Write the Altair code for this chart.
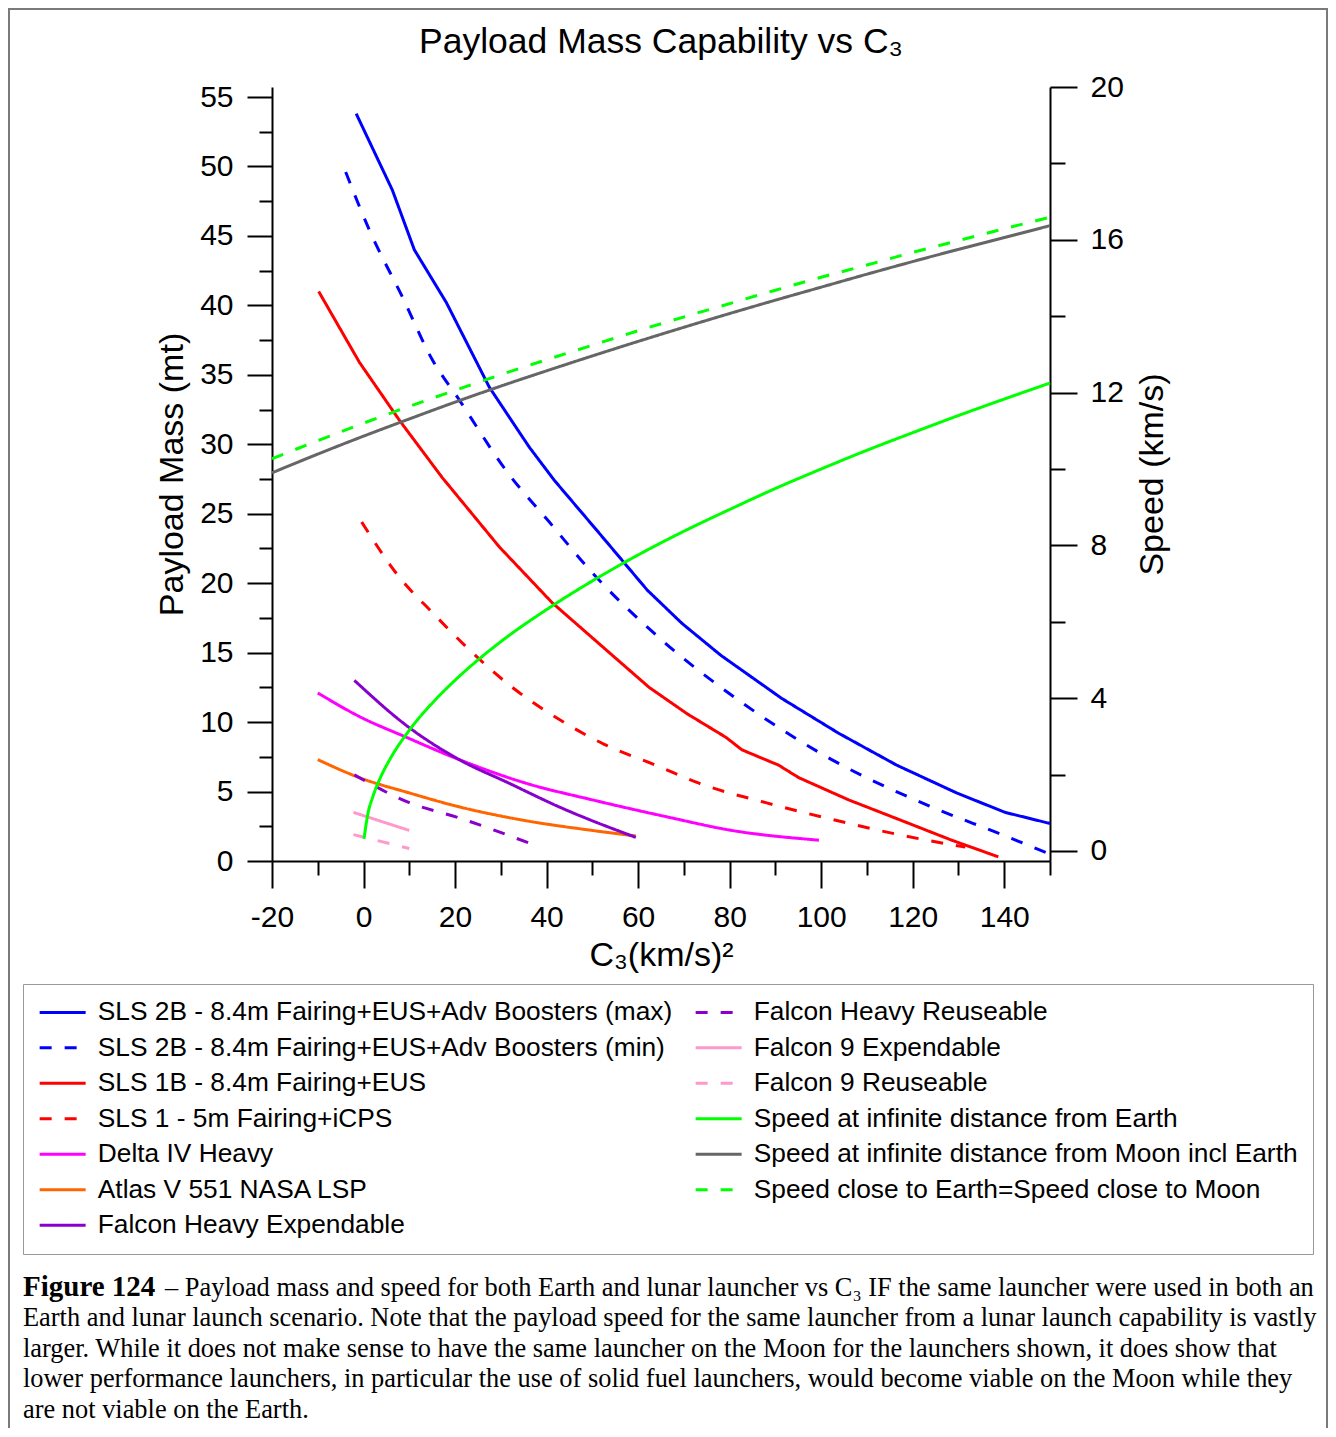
import altair as alt
import pandas as pd

# ---------------- data ----------------
SERIES = [
    "SLS 2B - 8.4m Fairing+EUS+Adv Boosters (max)",
    "SLS 2B - 8.4m Fairing+EUS+Adv Boosters (min)",
    "SLS 1B - 8.4m Fairing+EUS",
    "SLS 1 - 5m Fairing+iCPS",
    "Delta IV Heavy",
    "Atlas V 551 NASA LSP",
    "Falcon Heavy Expendable",
    "Falcon Heavy Reuseable",
    "Falcon 9 Expendable",
    "Falcon 9 Reuseable",
    "Speed at infinite distance from Earth",
    "Speed at infinite distance from Moon incl Earth",
    "Speed close to Earth=Speed close to Moon",
]
COLORS = ["#0000FF", "#0000FF", "#FF0000", "#FF0000", "#FF00FF", "#FF6600",
          "#8800CC", "#8800CC", "#FF99CC", "#FF99CC", "#00FF00", "#666666", "#00FF00"]
DASHED = [False, True, False, True, False, False, False, True, False, True, False, False, True]

# payload mass (mt) vs C3 (km/s)^2
SLS2B_MAX_C3 = [-1.6, 6.3, 11.1, 18.1, 27.5, 36.2, 41.7, 51.5, 62, 69.6, 78.1, 91.4, 103.8, 116.5, 129.6, 140.2, 150]
SLS2B_MAX_MT = [53.8, 48.3, 44.0, 40.2, 34.1, 29.8, 27.4, 23.6, 19.5, 17.1, 14.8, 11.7, 9.2, 6.9, 4.9, 3.5, 2.7]
SLS2B_MIN_C3 = [-3.9, 1.3, 8.5, 15.0, 20.9, 31.4, 40.6, 49.3, 65.2, 82.7, 102.3, 124.1, 138.7, 149.2]
SLS2B_MIN_MT = [49.6, 45.4, 40.6, 36.1, 33.2, 28.0, 24.4, 21.0, 15.9, 11.4, 7.3, 3.9, 2.0, 0.6]
SLS1B_C3 = [-9.8, -0.9, 7.9, 17.2, 29.7, 41.2, 53.7, 62.4, 70.7, 79.2, 82.7, 90.7, 95.1, 106, 116.9, 128.5, 138.7]
SLS1B_MT = [41.0, 35.9, 31.7, 27.6, 22.6, 18.6, 15.0, 12.5, 10.6, 8.9, 8.0, 6.9, 6.0, 4.4, 3.0, 1.5, 0.3]
SLS1_C3 = [-0.4, 7.9, 15.0, 22.5, 32.5, 42.7, 52.6, 64.6, 73.3, 87.9, 102.3, 116.9, 131.5]
SLS1_MT = [24.4, 20.4, 17.9, 15.4, 12.5, 10.2, 8.4, 6.8, 5.6, 4.2, 3.0, 1.9, 1.0]
D4H_C3 = [-10, -0.9, 9.4, 20.9, 35.5, 50.0, 66.0, 80.5, 99.5]
D4H_MT = [12.1, 10.4, 8.9, 7.3, 5.6, 4.4, 3.2, 2.2, 1.5]
ATLAS_C3 = [-10, -0.9, 10.0, 20.9, 35.5, 50.0, 59.5]
ATLAS_MT = [7.3, 6.0, 4.9, 3.9, 2.9, 2.2, 1.8]
FHE_C3 = [-2.0, 10.0, 20.9, 31.8, 42.7, 59.5]
FHE_MT = [13.0, 9.6, 7.3, 5.6, 3.9, 1.7]
FHR_C3 = [-2.0, 10.0, 20.9, 36.9]
FHR_MT = [6.2, 4.2, 3.1, 1.2]
F9E_C3 = [-2.2, 10.0]
F9E_MT = [3.5, 2.2]
F9R_C3 = [-2.2, 10.0]
F9R_MT = [1.9, 0.9]

# speed (km/s) vs C3
EARTH_C3 = [0.1, 1, 2, 4, 6, 10, 15, 20, 30, 40, 50, 60, 70, 80, 90, 100, 110, 120, 130, 140, 150]
EARTH_KMS = [0.32, 1.0, 1.41, 2.0, 2.45, 3.16, 3.87, 4.47, 5.48, 6.32, 7.07, 7.75, 8.37, 8.94, 9.49, 10.0,
             10.49, 10.95, 11.4, 11.83, 12.25]
GRID_C3 = [-20, -10, 0, 10, 20, 30, 40, 50, 60, 70, 80, 90, 100, 110, 120, 130, 140, 150]
MOON_KMS = [9.90, 10.39, 10.86, 11.31, 11.75, 12.17, 12.57, 12.96, 13.34, 13.71, 14.07, 14.42, 14.76,
            15.10, 15.43, 15.75, 16.06, 16.37]
CLOSE_KMS = [10.27, 10.74, 11.2, 11.64, 12.06, 12.47, 12.86, 13.24, 13.62, 13.98, 14.33, 14.68, 15.02,
             15.34, 15.67, 15.98, 16.29, 16.59]

TITLE = "Payload Mass Capability vs C\u2083"
X_TITLE = "C\u2083(km/s)\u00b2"
CAPTION_BOLD = "Figure 124"
CAPTION_LINE1 = "\u2013 Payload mass and speed for both Earth and lunar launcher vs C\u2083 IF the same launcher were used in both an"
CAPTION_REST = [
    "Earth and lunar launch scenario. Note that the payload speed for the same launcher from a lunar launch capability is vastly",
    "larger. While it does not make sense to have the same launcher on the Moon for the launchers shown, it does show that",
    "lower performance launchers, in particular the use of solid fuel launchers, would become viable on the Moon while they",
    "are not viable on the Earth.",
]

# ---------------- tables ----------------
kinked_sets = [
    (SERIES[0], SLS2B_MAX_C3, SLS2B_MAX_MT), (SERIES[2], SLS1B_C3, SLS1B_MT),
]
smooth_sets = [
    (SERIES[1], SLS2B_MIN_C3, SLS2B_MIN_MT), (SERIES[3], SLS1_C3, SLS1_MT),
    (SERIES[4], D4H_C3, D4H_MT), (SERIES[5], ATLAS_C3, ATLAS_MT),
    (SERIES[6], FHE_C3, FHE_MT), (SERIES[7], FHR_C3, FHR_MT),
    (SERIES[8], F9E_C3, F9E_MT), (SERIES[9], F9R_C3, F9R_MT),
]
speed_sets = [
    (SERIES[10], EARTH_C3, EARTH_KMS), (SERIES[11], GRID_C3, MOON_KMS), (SERIES[12], GRID_C3, CLOSE_KMS),
]

def build(sets):
    rows = []
    for name, xs, ys in sets:
        for i, (a, b) in enumerate(zip(xs, ys)):
            rows.append({"series": name, "c3": a, "value": b, "i": i})
    return pd.DataFrame(rows)

kinked_df = build(kinked_sets)
smooth_df = build(smooth_sets)
speed_df = build(speed_sets)

dash_rng = [[12, 13] if d else [1, 0] for d in DASHED]

W, H = 778, 774
FONT = "Liberation Sans"

legend = alt.Legend(
    orient="none", legendX=-249, legendY=897, columns=2, title=None,
    labelFont=FONT, labelFontSize=26.3, labelColor="black", labelLimit=1000,
    symbolType="M-2,0L2,0", symbolSize=529, symbolStrokeWidth=3, symbolOffset=11.5,
    rowPadding=8.5, columnPadding=16, labelOffset=22, padding=15,
    strokeColor="#999999", fillColor="white",
)
color = alt.Color("series:N", scale=alt.Scale(domain=SERIES, range=COLORS), legend=legend)
dash = alt.StrokeDash("series:N", scale=alt.Scale(domain=SERIES, range=dash_rng), legend=legend)

x_axis = alt.Axis(
    values=list(range(-20, 151, 10)),
    labelExpr="datum.value % 20 === 0 ? '' + datum.value : ''",
    tickSize={"condition": {"test": "datum.value % 20 === 0", "value": 27}, "value": 14},
    labelPadding=14, labelFlush=False, labelOverlap=False, labelBound=False,
    title=X_TITLE, titlePadding=6,
)
x_enc = alt.X("c3:Q", scale=alt.Scale(domain=[-20, 150], nice=False, zero=False), axis=x_axis)

mass_axis = alt.Axis(
    orient="left", values=[v * 2.5 for v in range(0, 23)],
    labelExpr="datum.value % 5 === 0 ? datum.label : ''",
    tickSize={"condition": {"test": "datum.value % 5 === 0", "value": 25}, "value": 13},
    labelPadding=14, labelOverlap=False, labelFlush=False, labelBound=False,
    title="Payload Mass (mt)", titlePadding=10,
)
speed_axis = alt.Axis(
    orient="right", values=list(range(0, 21, 2)),
    labelExpr="datum.value % 4 === 0 ? datum.label : ''",
    tickSize={"condition": {"test": "datum.value % 4 === 0", "value": 27}, "value": 15},
    labelPadding=13, labelOverlap=False, labelFlush=False, labelBound=False,
    title="Speed (km/s)", titlePadding=12, titleAngle=270, titleBaseline="top",
)

mass_y = alt.Y("value:Q", scale=alt.Scale(domain=[0, 55.72], nice=False, zero=False), axis=mass_axis)

mass_kinked = alt.Chart(kinked_df).mark_line(strokeWidth=3).encode(
    x=x_enc, y=mass_y, color=color, strokeDash=dash, order="i:Q",
)
mass_smooth = alt.Chart(smooth_df).mark_line(strokeWidth=3, interpolate="monotone").encode(
    x=x_enc, y=mass_y, color=color, strokeDash=dash, order="i:Q",
)
mass = alt.layer(mass_smooth, mass_kinked)
speed = alt.Chart(speed_df).mark_line(strokeWidth=3, interpolate="monotone").encode(
    x=x_enc,
    y=alt.Y("value:Q", scale=alt.Scale(domain=[-0.262, 20], nice=False, zero=False), axis=speed_axis),
    color=color, strokeDash=dash, order="i:Q",
)

one = pd.DataFrame({"k": [0]})
border = alt.Chart(one).mark_rect(filled=False, stroke="#7a7a7a", strokeWidth=2).encode(
    x=alt.value(-263), x2=alt.value(1055), y=alt.value(-78), y2=alt.value(1500)
)
title_txt = alt.Chart(one).mark_text(
    font=FONT, fontSize=35.5, align="center", baseline="middle", color="black"
).encode(x=alt.value(389), y=alt.value(-45), text=alt.value(TITLE))
cap_bold = alt.Chart(one).mark_text(
    font="Liberation Serif", fontSize=29, fontWeight="bold", align="left", baseline="middle", color="black"
).encode(x=alt.value(-249), y=alt.value(1200), text=alt.value(CAPTION_BOLD))
cap_l1 = alt.Chart(one).mark_text(
    font="Liberation Serif", fontSize=26.4, align="left", baseline="middle", color="black"
).encode(x=alt.value(-107), y=alt.value(1201), text=alt.value(CAPTION_LINE1))
cap_rest = alt.Chart(one).mark_text(
    font="Liberation Serif", fontSize=26.4, align="left", baseline="middle", color="black", lineHeight=30.7
).encode(x=alt.value(-249), y=alt.value(1231), text=alt.value(CAPTION_REST))

chart = (
    alt.layer(mass, speed, border, title_txt, cap_bold, cap_l1, cap_rest)
    .resolve_scale(y="independent")
    .properties(
        width=W, height=H,
        autosize=alt.AutoSizeParams(type="none"),
        padding={"left": 264, "top": 79, "right": 278, "bottom": 567},
    )
    .configure_view(stroke=None)
    .configure_axis(
        labelFont=FONT, titleFont=FONT, labelFontSize=30, titleFontSize=34,
        titleFontWeight="normal", labelColor="black", titleColor="black",
        domainColor="black", tickColor="black", domainWidth=2, tickWidth=2, grid=False,
    )
)

chart.save("out.html", embed_options={"renderer": "svg", "actions": False})
